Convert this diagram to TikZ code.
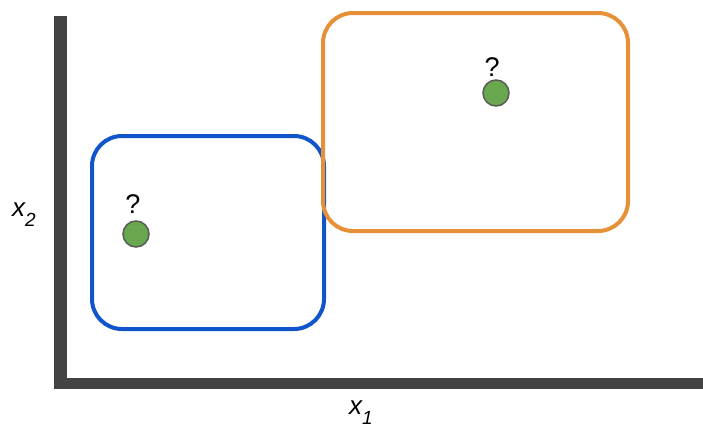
\documentclass[tikz,border=0pt]{standalone}
\usepackage{fontspec}
\setmainfont{Liberation Sans}
\definecolor{axisgray}{HTML}{434343}
\definecolor{boxblue}{HTML}{1155CC}
\definecolor{boxorange}{HTML}{E69138}
\definecolor{dotgreen}{HTML}{6AA84F}
\definecolor{dotborder}{HTML}{595959}
\tikzset{
  region/.style={line width=4pt, rounded corners=30pt},
  point/.style={circle, fill=dotgreen, draw=dotborder, line width=1.5pt, minimum size=26pt, inner sep=0pt},
  qmark/.style={font=\fontsize{27}{30}\selectfont, inner sep=0pt, anchor=base},
  axislabel/.style={font=\fontsize{26}{30}\selectfont\itshape, inner sep=0pt, anchor=base west}
}
\newcommand{\subidx}[1]{\raisebox{-10pt}{\fontsize{19}{21}\selectfont\itshape #1}}
\begin{document}
\begin{tikzpicture}[x=1pt,y=-1pt]
\useasboundingbox (0,0) rectangle (703,429);
% axes
\fill[axisgray] (54,16) rectangle (67,389);
\fill[axisgray] (54,378) rectangle (703,389);
% regions
\draw[region, draw=boxblue] (92,136) rectangle (324,329);
\draw[region, draw=boxorange] (323,13) rectangle (628,231);
% points
\node[point] (p1) at (136,234) {};
\node[point] (p2) at (496,93) {};
\node[qmark] (q1) at (133,213) {?};
\node[qmark] (q2) at (492,76) {?};
% labels
\node[axislabel] (l2) at (12,216) {x\subidx{2}};
\node[axislabel] (l1) at (349,414) {x\subidx{1}};
\end{tikzpicture}
\end{document}
